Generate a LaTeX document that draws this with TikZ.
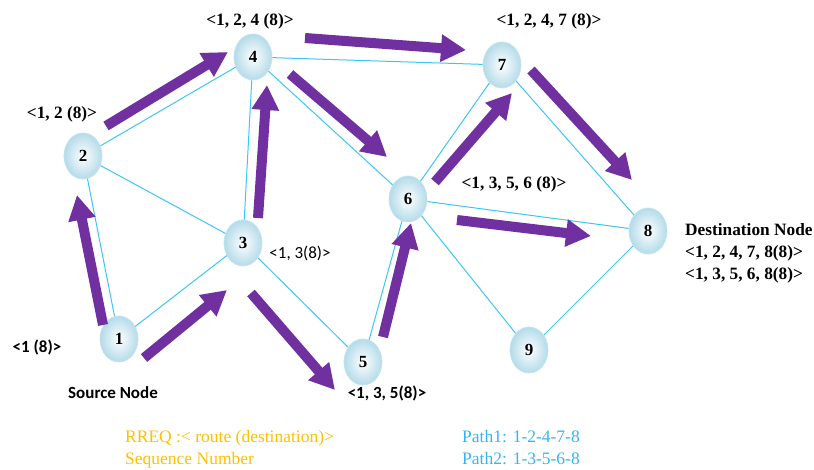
\documentclass[tikz,border=0pt]{standalone}
\usepackage{fontspec}
\setmainfont{Liberation Serif}
\newfontfamily\calib{Carlito}
\usetikzlibrary{shapes.geometric,arrows.meta}
\definecolor{pur}{HTML}{7030A0}
\definecolor{edgeblue}{RGB}{60,198,245}
\definecolor{nodeedge}{RGB}{196,228,240}
\definecolor{nodefill}{RGB}{180,219,233}
\definecolor{rreq}{HTML}{FFC000}
\definecolor{pathblue}{RGB}{51,182,240}
\begin{document}
\begin{tikzpicture}[x=1pt,y=-1pt,
  nd/.style={ellipse, minimum width=38pt, minimum height=46pt, inner sep=0pt,
    draw=nodeedge, line width=0.8pt, inner color=white, outer color=nodefill,
    font=\fontsize{17}{17}\selectfont\bfseries},
  link/.style={draw=edgeblue, line width=1pt},
  fat/.style={draw=pur, fill=pur, line width=10pt, -{Triangle[length=25pt,width=26pt]}},
  tlab/.style={font=\fontsize{17.3}{17.3}\selectfont\bfseries, inner sep=0pt},
  clab/.style={font=\calib\fontsize{17}{17}\selectfont\bfseries, inner sep=0pt},
  clabr/.style={font=\calib\fontsize{17}{17}\selectfont, inner sep=0pt},
  legend/.style={font=\fontsize{17.5}{17.5}\selectfont, inner sep=0pt, anchor=west}]
\useasboundingbox (0,0) rectangle (814,470);
% nodes
\node[nd] (n1) at (119,339) {1};
\node[nd] (n2) at (83,156) {2};
\node[nd] (n3) at (243,243) {3};
\node[nd] (n4) at (253,57) {4};
\node[nd] (n5) at (363,362) {5};
\node[nd] (n6) at (408,199) {6};
\node[nd] (n7) at (502,65) {7};
\node[nd] (n8) at (648,231) {8};
\node[nd] (n9) at (529,350) {9};
% links
\draw[link] (n1) -- (n2);
\draw[link] (n1) -- (n3);
\draw[link] (n2) -- (n4);
\draw[link] (n2) -- (n3);
\draw[link] (n3) -- (n4);
\draw[link] (n4) -- (n6);
\draw[link] (n4) -- (n7);
\draw[link] (n3) -- (n5);
\draw[link] (n5) -- (n6);
\draw[link] (n6) -- (n7);
\draw[link] (n6) -- (n8);
\draw[link] (n7) -- (n8);
\draw[link] (n6) -- (n9);
\draw[link] (n8) -- (n9);
% arrow end points
\coordinate (a12s) at (103,325); \coordinate (a12e) at (77,195);
\coordinate (a24s) at (106,126); \coordinate (a24e) at (228,52);
\coordinate (a34s) at (258,218); \coordinate (a34e) at (267,85);
\coordinate (a46s) at (290,74);  \coordinate (a46e) at (387,157);
\coordinate (a47s) at (305,38);  \coordinate (a47e) at (466,50);
\coordinate (a67s) at (435,182); \coordinate (a67e) at (512,93);
\coordinate (a78s) at (531,70);  \coordinate (a78e) at (632,180);
\coordinate (a68s) at (457,220); \coordinate (a68e) at (591,236);
\coordinate (a13s) at (144,358); \coordinate (a13e) at (227,290);
\coordinate (a35s) at (251,293); \coordinate (a35e) at (335,390);
\coordinate (a56s) at (383,337); \coordinate (a56e) at (411,223);
\foreach \a in {12,24,34,46,47,67,78,68,13,35,56}
  \draw[fat] (a\a s) -- (a\a e);
% labels
\node[tlab] (l4) at (250,21) {<1, 2, 4 (8)>};
\node[tlab] (l2) at (62,114) {<1, 2 (8)>};
\node[tlab] (l7) at (549,21) {<1, 2, 4, 7 (8)>};
\node[tlab] (l6) at (514,184) {<1, 3, 5, 6 (8)>};
\node[tlab, anchor=west] (ld) at (685,230) {Destination Node};
\node[tlab, anchor=west] (ld1) at (685,253) {<1, 2, 4, 7, 8(8)>};
\node[tlab, anchor=west] (ld2) at (685,275) {<1, 3, 5, 6, 8(8)>};
\node[clabr] (l3) at (300,253) {<1, 3(8)>};
\node[clab] (l1) at (37,347) {<1 (8)>};
\node[clab] (ls) at (113,393) {Source Node};
\node[clab] (l5) at (387,393) {<1, 3, 5(8)>};
\node[legend, text=rreq] (r1) at (125,438) {RREQ :< route (destination)>};
\node[legend, text=rreq] (r2) at (125,460) {Sequence Number};
\node[legend, text=pathblue] (p1) at (462,437) {Path1: 1-2-4-7-8};
\node[legend, text=pathblue] (p2) at (462,459) {Path2: 1-3-5-6-8};
\end{tikzpicture}
\end{document}
